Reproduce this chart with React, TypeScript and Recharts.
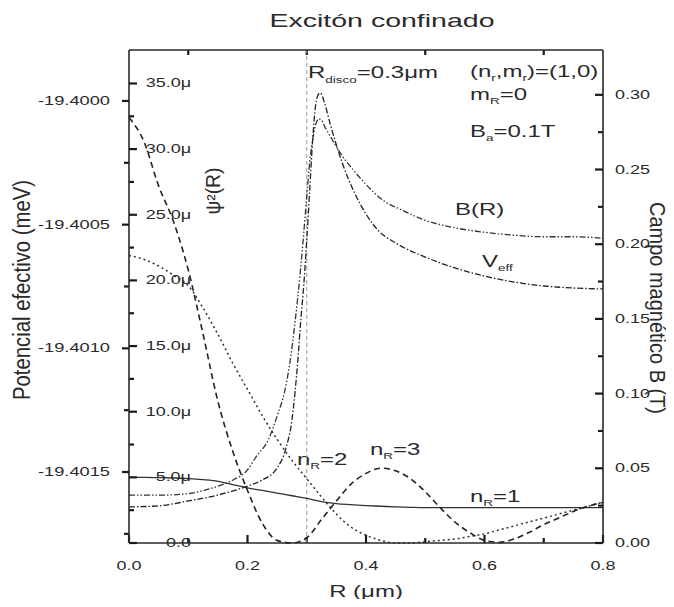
import React from "react"
import { LineChart, Line, XAxis, YAxis, ReferenceLine } from "recharts"

// R grid (µm) shared by the three ψ² curves
const psiR = [
    0, 0.025, 0.05, 0.075, 0.1, 0.125, 0.15, 0.175, 0.2, 0.225, 0.25, 0.275, 0.3, 0.325, 0.35, 0.375, 0.4,
    0.425, 0.45, 0.475, 0.5, 0.525, 0.55, 0.575, 0.6, 0.625, 0.65, 0.675, 0.7, 0.725, 0.75, 0.775, 0.8,
]
// ψ²(R) in µ units
const psiN1 = [
    5.0, 5.0, 4.98, 4.95, 4.9, 4.82, 4.7, 4.45, 4.2, 4.0, 3.8, 3.6, 3.4, 3.15, 3.0, 2.92, 2.85, 2.8, 2.75,
    2.72, 2.7, 2.7, 2.7, 2.7, 2.7, 2.7, 2.7, 2.7, 2.7, 2.7, 2.7, 2.7, 2.7,
]
const psiN2 = [
    21.9, 21.6, 21.1, 20.4, 19.6, 17.9, 15.9, 13.7, 11.7, 9.7, 7.9, 6.3, 4.9, 3.5, 2.2, 1.2, 0.6, 0.2, 0.0,
    0.0, 0.1, 0.2, 0.3, 0.5, 0.7, 1.0, 1.3, 1.6, 1.9, 2.2, 2.5, 2.8, 3.1,
]
const psiN3 = [
    32.4, 30.6, 27.2, 24.5, 20.8, 15.9, 10.8, 7.0, 4.0, 1.5, 0.2, 0.0, 0.4, 1.8, 3.2, 4.5, 5.3, 5.7, 5.5,
    4.9, 3.9, 2.7, 1.6, 0.8, 0.2, 0.05, 0.3, 0.8, 1.4, 1.9, 2.4, 2.8, 3.1,
]

// magnetic field B(R) in T
const bR = [
    0, 0.05, 0.1, 0.125, 0.15, 0.175, 0.2, 0.215, 0.235, 0.25, 0.263, 0.272, 0.28, 0.289, 0.294, 0.3, 0.305,
    0.31, 0.315, 0.32, 0.325, 0.33, 0.34, 0.36, 0.38, 0.4, 0.43, 0.46, 0.5, 0.55, 0.6, 0.65, 0.7, 0.75, 0.8,
]
const bField = [
    0.032, 0.032, 0.033, 0.035, 0.038, 0.042, 0.049, 0.058, 0.069, 0.085, 0.102, 0.122, 0.147, 0.181, 0.203,
    0.232, 0.255, 0.27, 0.28, 0.284, 0.283, 0.279, 0.272, 0.259, 0.249, 0.24, 0.229, 0.223, 0.216, 0.211,
    0.208, 0.206, 0.205, 0.205, 0.204,
]

// effective potential in meV
const vR = [
    0, 0.05, 0.1, 0.15, 0.2, 0.225, 0.25, 0.265, 0.275, 0.285, 0.29, 0.295, 0.3, 0.305, 0.31, 0.315, 0.32,
    0.323, 0.33, 0.34, 0.35, 0.36, 0.38, 0.4, 0.42, 0.45, 0.5, 0.55, 0.6, 0.65, 0.7, 0.75, 0.8,
]
const vEff = [
    -19.401641, -19.401637, -19.401617, -19.401593, -19.401557, -19.401532, -19.401484, -19.401403,
    -19.40129, -19.401047, -19.400885, -19.400744, -19.400562, -19.40036, -19.400158, -19.400016,
    -19.399972, -19.399968, -19.400008, -19.400097, -19.400178, -19.400251, -19.400368, -19.400457,
    -19.400522, -19.400574, -19.400631, -19.400675, -19.400708, -19.400732, -19.400748, -19.400756,
    -19.40076,
]

// ticks (major ones carry labels, minor ones are short marks)
const xTicks = [0, 0.2, 0.4, 0.6, 0.8]
const xMinor = [0.1, 0.3, 0.5, 0.7]
const vTicks = [-19.4015, -19.401, -19.4005, -19.4]
const vMinor = [-19.40175, -19.40125, -19.40075, -19.40025]
const psiTicks = [0, 5, 10, 15, 20, 25, 30, 35]
const psiMinor = [2.5, 7.5, 12.5, 17.5, 22.5, 27.5, 32.5]
const bTicks = [0, 0.05, 0.1, 0.15, 0.2, 0.25, 0.3]
const bMinor = [0.025, 0.075, 0.125, 0.175, 0.225, 0.275]

const X_DOMAIN = [0, 0.8]
const PSI_DOMAIN = [0, 37.55]
const V_DOMAIN = [-19.401787, -19.399794]
const B_DOMAIN = [0, 0.33]
const PLOT_W = 474
const PLOT_H = 493

const INK = "#2a2a2a"
const FONT = "'Liberation Sans', Arial, sans-serif"
const SX = 1.5 // the scan is stretched sideways
const MAJOR = 8
const MINOR = 5

const toPoints = (xs: number[], ys: number[]) => xs.map((x, i) => ({ x, y: ys[i] }))

// pixel length -> data length along an axis
const xLen = (px: number) => (px * (X_DOMAIN[1] - X_DOMAIN[0])) / PLOT_W
const yLen = (px: number, d: number[]) => (px * (d[1] - d[0])) / PLOT_H

function Txt({ x, y, size = 16, anchor = "start", rotate = 0, len, children }: any) {
    return (
        <text
            transform={`translate(${x} ${y}) scale(${SX} 1) rotate(${rotate})`}
            textAnchor={anchor}
            fontSize={size}
            fill={INK}
            fontFamily={FONT}
            textLength={len}
            lengthAdjust={len ? "spacingAndGlyphs" : undefined}
        >
            {children}
        </text>
    )
}

// tick label renderers; x/y arrive at the inner end of the tick line
const BottomTick = (p: any) => (
    <Txt x={p.x} y={p.y + MAJOR + 27} size={12} anchor="middle">
        {p.payload.value.toFixed(1)}
    </Txt>
)
const VTick = (p: any) => (
    <Txt x={p.x - 12} y={p.y + 4} size={12} anchor="end" len={48}>
        {p.payload.value.toFixed(4)}
    </Txt>
)
const PsiTick = (p: any) => (
    <Txt x={p.x + 54} y={p.y + 4} size={12} anchor="end">
        {p.payload.value === 0 ? "0.0" : `${p.payload.value.toFixed(1)}\u03bc`}
    </Txt>
)
const BTick = (p: any) => (
    <Txt x={p.x + MAJOR + 12} y={p.y + 4} size={12}>
        {p.payload.value.toFixed(2)}
    </Txt>
)

const axisLine = { stroke: INK, strokeWidth: 1.6 }
const tickLine = { stroke: "#1a1a1a", strokeWidth: 2.2 }

export default function App() {
    return (
        <div style={{ position: "relative", width: 658, height: 591, background: "#fff" }}>
            {/* texts sit underneath the chart surface so nothing covers its marks */}
            <svg
                width={674}
                height={607}
                style={{ position: "absolute", left: -8, top: -8, pointerEvents: "none" }}
            >
                <Txt x={382} y={27} size={19} anchor="middle">Excitón confinado</Txt>
                <Txt x={366} y={597} size={16} anchor="middle">R (μm)</Txt>
                <Txt x={30} y={290} size={16} anchor="middle" rotate={-90} len={220}>
                    Potencial efectivo (meV)
                </Txt>
                <Txt x={650} y={308} size={15} anchor="middle" rotate={90} len={212}>
                    Campo magnético B (T)
                </Txt>
                <Txt x={220} y={191} size={13} anchor="middle" rotate={-90} len={47}>
                    ψ²(R)
                </Txt>
                <Txt x={308} y={78} size={16}>
                    R<tspan fontSize={9} dy={5}>disco</tspan>
                    <tspan dy={-5}>=0.3μm</tspan>
                </Txt>
                <Txt x={470} y={77} size={16}>
                    (n<tspan fontSize={9} dy={4}>r</tspan>
                    <tspan dy={-4}>,m</tspan>
                    <tspan fontSize={9} dy={4}>r</tspan>
                    <tspan dy={-4}>)=(1,0)</tspan>
                </Txt>
                <Txt x={470} y={100} size={16}>
                    m<tspan fontSize={9} dy={4}>R</tspan>
                    <tspan dy={-4}>=0</tspan>
                </Txt>
                <Txt x={470} y={137} size={16}>
                    B<tspan fontSize={9} dy={4}>a</tspan>
                    <tspan dy={-4}>=0.1T</tspan>
                </Txt>
                <Txt x={455} y={215} size={16}>B(R)</Txt>
                <Txt x={482} y={267} size={16}>
                    V<tspan fontSize={9} dy={4}>eff</tspan>
                </Txt>
                <Txt x={297} y={465} size={16}>
                    n<tspan fontSize={9} dy={4}>R</tspan>
                    <tspan dy={-4}>=2</tspan>
                </Txt>
                <Txt x={370} y={455} size={16}>
                    n<tspan fontSize={9} dy={4}>R</tspan>
                    <tspan dy={-4}>=3</tspan>
                </Txt>
                <Txt x={470} y={502} size={16}>
                    n<tspan fontSize={9} dy={4}>R</tspan>
                    <tspan dy={-4}>=1</tspan>
                </Txt>
            </svg>
            <LineChart width={658} height={591} margin={{ top: 41, right: 8, bottom: 26, left: 21 }}>
                <XAxis
                    xAxisId="bottom"
                    dataKey="x"
                    type="number"
                    domain={X_DOMAIN}
                    ticks={xTicks}
                    interval={0}
                    height={30}
                    tickSize={-MAJOR}
                    tickMargin={0}
                    tickLine={tickLine}
                    axisLine={axisLine}
                    tick={BottomTick}
                />
                <XAxis
                    xAxisId="top"
                    orientation="top"
                    dataKey="x"
                    type="number"
                    domain={X_DOMAIN}
                    ticks={xTicks}
                    interval={0}
                    height={1}
                    tickSize={-MAJOR}
                    tick={false}
                    tickLine={tickLine}
                    axisLine={axisLine}
                />
                <YAxis
                    yAxisId="v"
                    type="number"
                    domain={V_DOMAIN}
                    ticks={vTicks}
                    interval={0}
                    width={100}
                    tickSize={7}
                    tickMargin={0}
                    tickLine={tickLine}
                    axisLine={axisLine}
                    tick={VTick}
                />
                <YAxis
                    yAxisId="psi"
                    type="number"
                    mirror
                    domain={PSI_DOMAIN}
                    ticks={psiTicks}
                    interval={0}
                    width={60}
                    tickSize={MAJOR}
                    tickMargin={0}
                    tickLine={tickLine}
                    axisLine={false}
                    tick={PsiTick}
                />
                <YAxis
                    yAxisId="b"
                    orientation="right"
                    type="number"
                    domain={B_DOMAIN}
                    ticks={bTicks}
                    interval={0}
                    width={55}
                    tickSize={-MAJOR}
                    tickMargin={0}
                    tickLine={tickLine}
                    axisLine={axisLine}
                    tick={BTick}
                />

                {/* minor tick marks */}
                {xMinor.map((v) => (
                    <ReferenceLine
                        key={`xb${v}`}
                        xAxisId="bottom"
                        yAxisId="psi"
                        segment={[
                            { x: v, y: 0 },
                            { x: v, y: yLen(MINOR, PSI_DOMAIN) },
                        ]}
                        {...tickLine}
                        ifOverflow="visible"
                    />
                ))}
                {xMinor.map((v) => (
                    <ReferenceLine
                        key={`xt${v}`}
                        xAxisId="bottom"
                        yAxisId="psi"
                        segment={[
                            { x: v, y: PSI_DOMAIN[1] },
                            { x: v, y: PSI_DOMAIN[1] - yLen(MINOR, PSI_DOMAIN) },
                        ]}
                        {...tickLine}
                        ifOverflow="visible"
                    />
                ))}
                {vMinor.map((v) => (
                    <ReferenceLine
                        key={`v${v}`}
                        xAxisId="bottom"
                        yAxisId="v"
                        segment={[
                            { x: -xLen(MINOR), y: v },
                            { x: 0, y: v },
                        ]}
                        {...tickLine}
                        ifOverflow="visible"
                    />
                ))}
                {psiMinor.map((v) => (
                    <ReferenceLine
                        key={`p${v}`}
                        xAxisId="bottom"
                        yAxisId="psi"
                        segment={[
                            { x: 0, y: v },
                            { x: xLen(MINOR), y: v },
                        ]}
                        {...tickLine}
                        ifOverflow="visible"
                    />
                ))}
                {bMinor.map((v) => (
                    <ReferenceLine
                        key={`b${v}`}
                        xAxisId="bottom"
                        yAxisId="b"
                        segment={[
                            { x: X_DOMAIN[1] - xLen(MINOR), y: v },
                            { x: X_DOMAIN[1], y: v },
                        ]}
                        {...tickLine}
                        ifOverflow="visible"
                    />
                ))}

                <ReferenceLine
                    xAxisId="bottom"
                    yAxisId="psi"
                    x={0.3}
                    stroke="#9a9a9a"
                    strokeWidth={1}
                    strokeDasharray="4 3"
                />
                <Line
                    xAxisId="bottom"
                    yAxisId="psi"
                    data={toPoints(psiR, psiN1)}
                    dataKey="y"
                    type="monotone"
                    stroke="#333"
                    strokeWidth={1.3}
                    dot={false}
                    isAnimationActive={false}
                />
                <Line
                    xAxisId="bottom"
                    yAxisId="psi"
                    data={toPoints(psiR, psiN2)}
                    dataKey="y"
                    type="monotone"
                    stroke="#333"
                    strokeWidth={1.5}
                    strokeDasharray="2 3"
                    dot={false}
                    isAnimationActive={false}
                />
                <Line
                    xAxisId="bottom"
                    yAxisId="psi"
                    data={toPoints(psiR, psiN3)}
                    dataKey="y"
                    type="monotone"
                    stroke="#222"
                    strokeWidth={1.6}
                    strokeDasharray="6 4"
                    dot={false}
                    isAnimationActive={false}
                />
                <Line
                    xAxisId="bottom"
                    yAxisId="b"
                    data={toPoints(bR, bField)}
                    dataKey="y"
                    type="monotone"
                    stroke="#333"
                    strokeWidth={1.3}
                    strokeDasharray="6 2 1.5 2 1.5 2"
                    dot={false}
                    isAnimationActive={false}
                />
                <Line
                    xAxisId="bottom"
                    yAxisId="v"
                    data={toPoints(vR, vEff)}
                    dataKey="y"
                    type="monotone"
                    stroke="#222"
                    strokeWidth={1.3}
                    strokeDasharray="6 2 1.5 2"
                    dot={false}
                    isAnimationActive={false}
                />
            </LineChart>
        </div>
    )
}
